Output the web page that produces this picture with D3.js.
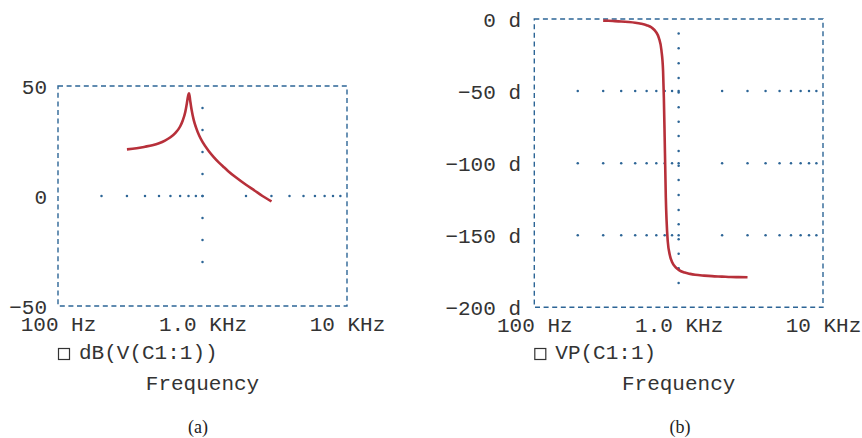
<!DOCTYPE html>
<html>
<head>
<meta charset="utf-8">
<script src="https://cdn.jsdelivr.net/npm/d3@7"></script>
<style>
  html, body { margin: 0; padding: 0; background: #fff; }
  svg { display: block; }
  .mono { font-family: "Liberation Mono", "Courier New", monospace; fill: #333; }
  .serif { font-family: "Liberation Serif", "Times New Roman", serif; fill: #222; }
</style>
</head>
<body>
<svg id="chart" width="862" height="438"></svg>
<script>
// ---------- data ----------
const magFreq = [300, 350, 400, 450, 500, 550, 600, 650, 700, 730, 760, 780, 790, 800, 807, 815, 825, 840, 870, 900, 950, 1000, 1100, 1200, 1300, 1400, 1500, 1700, 2000, 2300, 2600, 3000];
const magDb   = [21.2, 21.7, 22.4, 23.1, 24.0, 25.2, 26.7, 28.7, 31.6, 34.3, 38.2, 42.2, 44.6, 46.2, 46.7, 45.2, 42.6, 39.3, 34.5, 31.3, 27.4, 24.6, 20.6, 17.6, 15.2, 13.2, 11.4, 8.5, 5.1, 2.4, 0.0, -2.5];

const phFreq = [300, 350, 400, 450, 500, 550, 600, 650, 700, 730, 760, 780, 790, 800, 807, 815, 825, 840, 870, 900, 950, 1000, 1100, 1200, 1300, 1500, 1700, 2000, 2300, 2600, 3000];
const phDeg  = [-1.1, -1.4, -1.7, -2.1, -2.6, -3.3, -4.3, -5.9, -9.3, -13.2, -21.8, -36.1, -55, -82, -102, -124, -140, -154, -164, -168.6, -172.1, -174.0, -175.9, -176.8, -177.4, -178.0, -178.4, -178.7, -179.0, -179.1, -179.2];

const xTickVals   = [100, 1000, 10000];
const xTickLabels = ["100 Hz", "1.0 KHz", "10 KHz"];
const yTicksA     = [50, 0, -50];
const yLabelsA    = ["50", "0", "\u221250"];
const yTicksB     = [0, -50, -100, -150, -200];
const yLabelsB    = ["0 d", "\u221250 d", "\u2212100 d", "\u2212150 d", "\u2212200 d"];

// grid dots (minor log positions & vertical dot readings)
const minorFreqs  = [200, 300, 400, 500, 600, 700, 800, 900, 1000, 2000, 3000, 4000, 5000, 6000, 7000, 8000, 9000];
const gridHorizA  = [0];
const gridDotsA   = [40, 30, 20, 10, 0, -10, -20, -30];
const gridHorizB  = [-50, -100, -150];
const gridDotsB   = [-10, -20.3, -30.7, -40.9, -51, -61.3, -71.2, -81.2, -91.6, -101.8, -111.7, -122.1, -132.5, -142.4, -152.8, -162.8, -172.9, -183.2];
const gridFreq    = 1000;

const legendA = "dB(V(C1:1))";
const legendB = "VP(C1:1)";
const xTitle  = "Frequency";

// ---------- styling ----------
const gridColor  = "#2d6596";
const curveColor = "#b7303a";

const svg = d3.select("#chart");

function panel(opts) {
  const g = svg.append("g");
  const x = d3.scaleLog().domain([100, 10000]).range([opts.left, opts.right]);
  const y = d3.scaleLinear().domain(opts.yDomain).range([opts.bottom, opts.top]);

  // dashed box
  g.append("rect")
    .attr("x", opts.left).attr("y", opts.top)
    .attr("width", opts.right - opts.left).attr("height", opts.bottom - opts.top)
    .attr("fill", "none").attr("stroke", gridColor)
    .attr("stroke-width", 1.4).attr("stroke-dasharray", "5,3.6");

  // horizontal dotted grid lines (dots at minor log frequencies)
  opts.gridH.forEach(v => {
    g.selectAll(null).data(minorFreqs).enter().append("circle")
      .attr("cx", d => x(d)).attr("cy", y(v)).attr("r", 1.25).attr("fill", gridColor);
  });
  // vertical dotted line at 1 kHz
  g.selectAll(null).data(opts.gridV).enter().append("circle")
    .attr("cx", x(gridFreq)).attr("cy", d => y(d)).attr("r", 1.25).attr("fill", gridColor);

  // curve
  const line = d3.line().x(d => x(d[0])).y(d => y(d[1])).curve(d3.curveMonotoneX);
  g.append("path")
    .datum(opts.fx.map((f, i) => [f, opts.fy[i]]))
    .attr("d", line)
    .attr("fill", "none").attr("stroke", curveColor)
    .attr("stroke-width", 2.6).attr("stroke-linejoin", "round");

  // x axis labels
  const xa = d3.axisBottom(x).tickValues(xTickVals)
    .tickFormat((d, i) => xTickLabels[i]).tickSize(0);
  const gx = g.append("g").attr("transform", `translate(0,${opts.xLabelY})`).call(xa);
  gx.select(".domain").remove();
  gx.selectAll("text").attr("class", "mono").attr("dy", 0).attr("y", 0)
    .attr("fill", "#333").style("font-size", "21px").attr("font-family", null);

  // y axis labels
  const ya = d3.axisLeft(y).tickValues(opts.yTicks)
    .tickFormat((d, i) => opts.yLabels[i]).tickSize(0);
  const gy = g.append("g").attr("transform", `translate(${opts.yLabelX},0)`).call(ya);
  gy.select(".domain").remove();
  gy.selectAll("text").attr("class", "mono").attr("x", 0).attr("dy", "0.36em")
    .attr("fill", "#333").style("font-size", "21px").attr("font-family", null);

  // legend
  g.append("rect").attr("x", opts.left + 0.5).attr("y", 348.5).attr("width", 11).attr("height", 11)
    .attr("fill", "none").attr("stroke", "#333").attr("stroke-width", 1.2);
  g.append("text").attr("class", "mono").attr("x", opts.left + 21).attr("y", 359)
    .style("font-size", "21px").text(opts.legend);

  // x title
  g.append("text").attr("class", "mono").attr("x", (opts.left + opts.right) / 2).attr("y", 390)
    .attr("text-anchor", "middle").style("font-size", "21px").text(xTitle);

  // caption
  g.append("text").attr("class", "serif").attr("x", opts.capX).attr("y", 433)
    .attr("text-anchor", "middle").style("font-size", "18px").text(opts.caption);
}

panel({
  left: 58, right: 347, top: 86, bottom: 306,
  yDomain: [-50, 50], yTicks: yTicksA, yLabels: yLabelsA,
  gridH: gridHorizA, gridV: gridDotsA,
  fx: magFreq, fy: magDb,
  xLabelY: 331, yLabelX: 47,
  legend: legendA, caption: "(a)", capX: 198
});

panel({
  left: 534.3, right: 823, top: 19, bottom: 307.3,
  yDomain: [-200, 0], yTicks: yTicksB, yLabels: yLabelsB,
  gridH: gridHorizB, gridV: gridDotsB,
  fx: phFreq, fy: phDeg,
  xLabelY: 331.5, yLabelX: 521,
  legend: legendB, caption: "(b)", capX: 680
});
</script>
</body>
</html>
